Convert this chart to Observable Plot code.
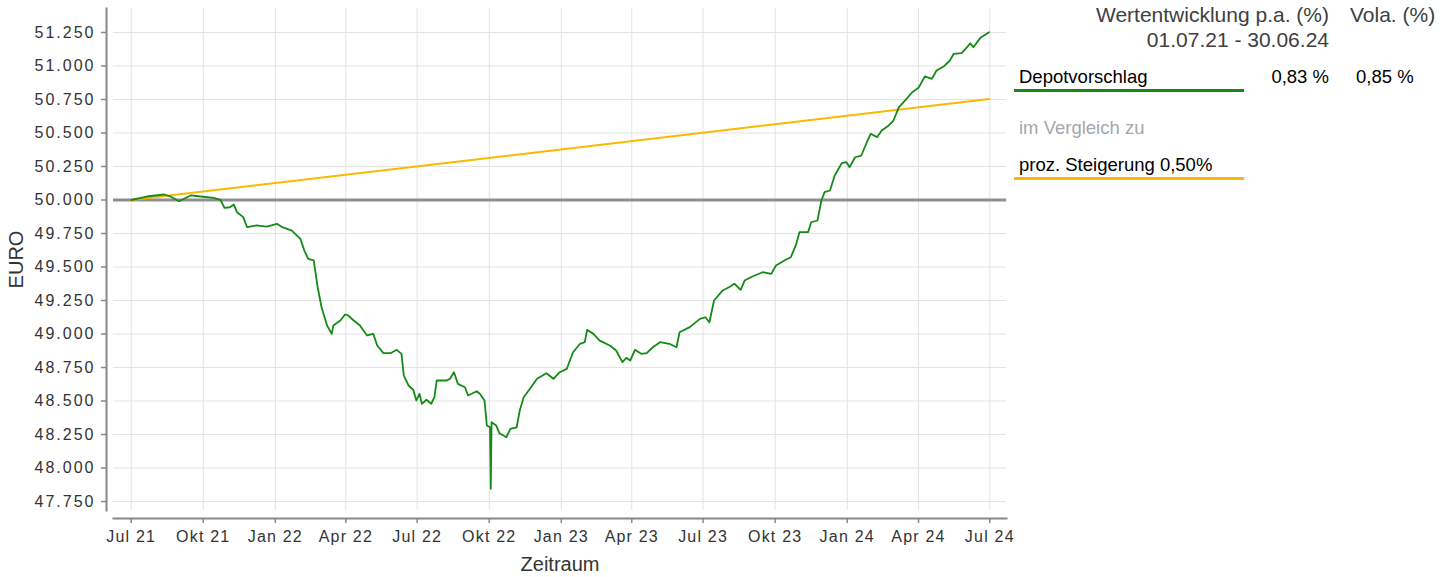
<!DOCTYPE html>
<html>
<head>
<meta charset="utf-8">
<script src="https://cdn.jsdelivr.net/npm/d3@7"></script>
<script src="https://cdn.jsdelivr.net/npm/@observablehq/plot@0.6"></script>
<style>
  body { margin: 0; background: #fff; font-family: "Liberation Sans", Arial, sans-serif; }
  #wrap { position: relative; width: 1454px; height: 577px; }
  .lg { position: absolute; white-space: nowrap; line-height: 22px; }
  .bar { position: absolute; }
</style>
</head>
<body>
<div id="wrap">
  <div id="chart"></div>
  <div id="legend"></div>
</div>
<script>
// ---- data ----
const depotDates = ["2021-07-01","2021-07-21","2021-08-12","2021-08-20","2021-08-31","2021-09-15","2021-09-28","2021-10-14","2021-10-23","2021-10-28","2021-11-04","2021-11-09","2021-11-13","2021-11-21","2021-11-26","2021-12-08","2021-12-21","2022-01-03","2022-01-10","2022-01-22","2022-02-02","2022-02-07","2022-02-12","2022-02-19","2022-02-24","2022-03-01","2022-03-08","2022-03-14","2022-03-16","2022-03-25","2022-03-31","2022-04-04","2022-04-11","2022-04-19","2022-04-28","2022-05-06","2022-05-11","2022-05-19","2022-05-28","2022-06-05","2022-06-11","2022-06-14","2022-06-20","2022-06-26","2022-06-30","2022-07-04","2022-07-07","2022-07-13","2022-07-19","2022-07-23","2022-07-26","2022-08-08","2022-08-12","2022-08-17","2022-08-22","2022-08-31","2022-09-04","2022-09-15","2022-09-19","2022-09-25","2022-09-28","2022-10-02","2022-10-03","2022-10-04","2022-10-10","2022-10-14","2022-10-23","2022-10-28","2022-11-05","2022-11-09","2022-11-14","2022-11-22","2022-12-01","2022-12-13","2022-12-22","2022-12-30","2023-01-08","2023-01-16","2023-01-25","2023-01-31","2023-02-03","2023-02-11","2023-02-19","2023-03-04","2023-03-12","2023-03-20","2023-03-25","2023-03-30","2023-04-05","2023-04-13","2023-04-20","2023-04-28","2023-05-07","2023-05-19","2023-05-28","2023-06-01","2023-06-14","2023-06-27","2023-07-04","2023-07-09","2023-07-15","2023-07-26","2023-08-03","2023-08-10","2023-08-18","2023-08-23","2023-09-02","2023-09-15","2023-09-26","2023-10-02","2023-10-15","2023-10-21","2023-10-28","2023-11-01","2023-11-12","2023-11-16","2023-11-24","2023-11-29","2023-12-03","2023-12-10","2023-12-16","2023-12-25","2023-12-31","2024-01-04","2024-01-11","2024-01-19","2024-01-26","2024-01-31","2024-02-08","2024-02-14","2024-02-23","2024-02-29","2024-03-07","2024-03-15","2024-03-24","2024-04-01","2024-04-09","2024-04-18","2024-04-24","2024-05-03","2024-05-11","2024-05-16","2024-05-26","2024-06-02","2024-06-06","2024-06-10","2024-06-19","2024-06-30"];
const depotValues = [50000,50026,50041,50026,49991,50034,50026,50016,50001,49942,49946,49966,49909,49872,49797,49810,49802,49822,49797,49772,49710,49623,49561,49549,49349,49200,49063,49001,49063,49101,49146,49138,49101,49063,48989,49001,48914,48857,48857,48882,48852,48690,48616,48584,48504,48554,48479,48509,48479,48528,48653,48653,48666,48715,48628,48603,48541,48573,48554,48504,48317,48304,47845,48342,48317,48260,48230,48293,48304,48429,48528,48591,48666,48707,48666,48715,48740,48864,48927,48939,49031,49001,48951,48914,48877,48790,48822,48802,48882,48852,48857,48901,48939,48927,48901,49013,49051,49113,49125,49088,49250,49325,49349,49375,49330,49399,49429,49461,49449,49511,49556,49573,49673,49760,49760,49834,49847,49996,50058,50071,50183,50275,50282,50245,50319,50332,50431,50494,50469,50519,50556,50593,50693,50743,50804,50837,50922,50904,50966,50996,51041,51091,51096,51140,51170,51140,51210,51252];

const benchDates = ["2021-07-01","2024-06-30"];
const benchValues = [50000, 50753];

const baseline = [50000];

const xTicks = ["2021-07-01","2021-10-01","2022-01-01","2022-04-01","2022-07-01","2022-10-01","2023-01-01","2023-04-01","2023-07-01","2023-10-01","2024-01-01","2024-04-01","2024-07-01"];
const monthNames = ["Jan","Feb","Mär","Apr","Mai","Jun","Jul","Aug","Sep","Okt","Nov","Dez"];
const yTicks = [47750,48000,48250,48500,48750,49000,49250,49500,49750,50000,50250,50500,50750,51000,51250];
const xDomain = ["2021-06-08T10:00Z","2024-07-22T07:00Z"];
const yDomain = [47683, 51429];

const headerLabels = ["Wertentwicklung p.a. (%)", "01.07.21 - 30.06.24", "Vola. (%)"];
const seriesNames = ["Depotvorschlag", "proz. Steigerung 0,50%"];
const seriesPerf = ["0,83 %"];
const seriesVola = ["0,85 %"];
const compareLabel = "im Vergleich zu";
const axisLabels = {x: "Zeitraum", y: "EURO"};

// ---- build ----
const GREEN = "#168a16";
const ORANGE = "#fbb800";
const depot = depotDates.map((d, i) => ({date: new Date(d), value: depotValues[i]}));
const bench = benchDates.map((d, i) => ({date: new Date(d), value: benchValues[i]}));
const xt = xTicks.map(d => new Date(d));
const fmt = d3.formatLocale({decimal: ",", thousands: ".", grouping: [3], currency: ["", "€"]}).format(",.0f");
const fmtDate = d => monthNames[d.getUTCMonth()] + " " + String(d.getUTCFullYear()).slice(2);

const chart = Plot.plot({
  width: 1454,
  height: 577,
  marginLeft: 113,
  marginRight: 448,
  marginTop: 8,
  marginBottom: 67,
  style: {fontFamily: "'Liberation Sans', Arial, sans-serif", fontSize: "16px", color: "#333", background: "#fff"},
  x: {type: "utc", domain: xDomain.map(d => new Date(d))},
  y: {domain: yDomain},
  marks: [
    Plot.gridX(xt, {stroke: "#e3e3e3", strokeOpacity: 1, strokeWidth: 1}),
    Plot.gridY(yTicks, {stroke: "#e3e3e3", strokeOpacity: 1, strokeWidth: 1}),
    Plot.ruleY(baseline, {stroke: "#8f8f8f", strokeWidth: 3}),
    Plot.line(bench, {x: "date", y: "value", stroke: ORANGE, strokeWidth: 2}),
    Plot.line(depot, {x: "date", y: "value", stroke: GREEN, strokeWidth: 1.8}),
    Plot.axisY(yTicks, {tickFormat: fmt, tickSize: 5, tickPadding: 6, dx: -7, stroke: "#888", strokeWidth: 1.5, fill: "#333", fontSize: 16, label: null}),
    Plot.axisX(xt, {tickFormat: fmtDate, tickSize: 5, tickPadding: 7, dy: 8, stroke: "#888", strokeWidth: 1.5, fill: "#333", fontSize: 16, label: null}),
    Plot.frame({anchor: "left", dx: -7, stroke: "#888", strokeWidth: 2}),
    Plot.frame({anchor: "bottom", dy: 8, stroke: "#888", strokeWidth: 2}),
    Plot.text([axisLabels.y], {frameAnchor: "left", textAnchor: "middle", lineAnchor: "middle", dx: -97, rotate: -90, fontSize: 20, fill: "#333", ariaLabel: "y-label"}),
    Plot.text([axisLabels.x], {frameAnchor: "bottom", textAnchor: "middle", lineAnchor: "middle", dy: 54, fontSize: 20, fill: "#333", ariaLabel: "x-label"})
  ]
});
document.getElementById("chart").appendChild(chart);
const svg = d3.select(chart);
svg.selectAll('g[aria-label="y-axis tick label"]').style("letter-spacing", "2px");
svg.selectAll('g[aria-label="x-axis tick label"]').style("letter-spacing", "1.2px");
svg.selectAll('g[aria-label="x-label"]').style("letter-spacing", "2.6px");
svg.selectAll('g[aria-label="y-label"]').style("letter-spacing", "1px");

// ---- legend (right side) ----
const lg = document.getElementById("legend");
function add(text, css) {
  const el = document.createElement("div");
  el.className = "lg";
  el.textContent = text;
  Object.assign(el.style, css);
  lg.appendChild(el);
}
function bar(css) {
  const el = document.createElement("div");
  el.className = "bar";
  Object.assign(el.style, css);
  lg.appendChild(el);
}
add(headerLabels[0], {right: "125px", top: "4px", fontSize: "21px", color: "#404040", textAlign: "right"});
add(headerLabels[1], {right: "125px", top: "29px", fontSize: "21px", color: "#404040", textAlign: "right"});
add(headerLabels[2], {left: "1350px", top: "4px", fontSize: "21px", color: "#404040"});
add(seriesNames[0], {left: "1019px", top: "66px", fontSize: "18.5px", color: "#000"});
bar({left: "1014px", top: "89px", width: "230px", height: "3px", background: GREEN});
add(seriesPerf[0], {right: "125px", top: "66px", fontSize: "18.5px", color: "#000"});
add(seriesVola[0], {left: "1356px", top: "66px", fontSize: "18.5px", color: "#000"});
add(compareLabel, {left: "1019px", top: "117px", fontSize: "18.5px", color: "#a3a7ae"});
add(seriesNames[1], {left: "1019px", top: "154px", fontSize: "18.5px", color: "#000"});
bar({left: "1014px", top: "177px", width: "230px", height: "2.5px", background: ORANGE});
</script>
</body>
</html>
